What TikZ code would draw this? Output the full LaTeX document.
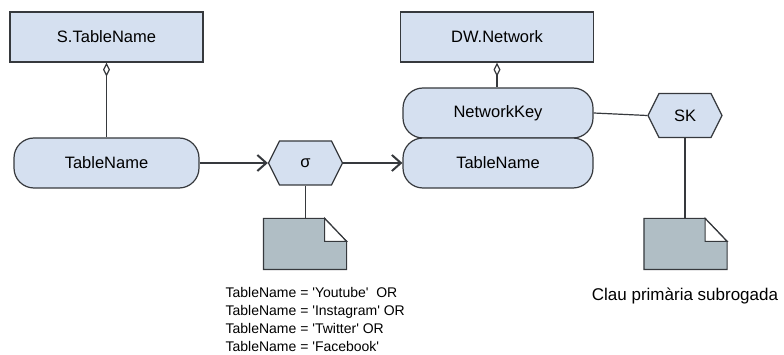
\documentclass[tikz,border=0pt]{standalone}
\usepackage{fontspec}
\setmainfont{Liberation Sans}
\usetikzlibrary{shapes.symbols,arrows.meta,calc}
\definecolor{bluefill}{HTML}{D5E0F0}
\definecolor{docfill}{HTML}{B0BEC5}
\definecolor{strokec}{HTML}{36393D}
\newcommand\sqt{\textquotesingle}
\begin{document}
\begin{tikzpicture}[x=1pt,y=-1pt,line width=1.2pt,
  box/.style={draw=strokec,fill=bluefill,minimum width=193pt,minimum height=50pt,inner sep=0pt,font=\fontsize{16.5}{19}\selectfont},
  pill/.style={box,rounded corners=20pt,minimum width=185pt},
  hex/.style={shape=signal,signal to=east and west,signal pointer angle=127,draw=strokec,fill=bluefill,minimum width=74pt,minimum height=44pt,inner sep=0pt,font=\fontsize{16.5}{19}\selectfont},
  docspace/.style={minimum width=82pt,minimum height=50pt,inner sep=0pt},
  docbody/.style={draw=strokec,fill=docfill},
  docfold/.style={draw=strokec,fill=white},
  arr/.style={draw=strokec,-{Straight Barb[length=9pt,width=16pt,line width=2pt]}},
  link/.style={draw=strokec},
  agg/.style={draw=strokec,{Diamond[open,length=14pt,width=7pt]}-}
]
\useasboundingbox (0,0) rectangle (784,355);

% left part
\node[box] (stn) at (106.5,37) {S.TableName};
\node[pill] (tn1) at (106.5,163) {TableName};
\node[hex] (sigma) at (305.5,163) {σ};
\node[docspace] (doc1) at (305,244) {};

% right part
\node[box] (dwn) at (497,37) {DW.Network};
\node[pill,minimum width=190pt] (nk) at (498,113) {NetworkKey};
\node[pill,minimum width=190pt] (tn2) at (498,163) {TableName};
\node[hex] (sk) at (685,115.5) {SK};
\node[docspace] (doc2) at (685.5,244) {};

% documents
\foreach \d in {doc1,doc2}{
  \path[docbody] (\d.south west) -- (\d.north west) -- ($(\d.north east)+(-22,0)$) -- ($(\d.north east)+(0,23)$) -- (\d.south east) -- cycle;
  \path[docfold] ($(\d.north east)+(-22,0)$) -- ($(\d.north east)+(-22,23)$) -- ($(\d.north east)+(0,23)$) -- cycle;
}

% connectors
\draw[agg] (stn.south) -- (tn1.north);
\draw[agg] (dwn.south) -- (dwn.south |- nk.north);
\draw[arr] (tn1.east) -- (sigma.west);
\draw[arr] (sigma.east) -- (tn2.west);
\draw[link] (nk.east) -- (sk.west);
\draw[link] (sigma.south) -- (sigma.south |- doc1.north);
\draw[link] (sk.south) -- (sk.south |- doc2.north);

% texts
\node[anchor=north west,align=left,inner sep=0pt,font=\fontsize{14}{17.8}\selectfont] (cond) at (225,287)
  {TableName = \sqt Youtube\sqt\ \ OR\\TableName = \sqt Instagram\sqt\ OR\\TableName = \sqt Twitter\sqt\ OR\\TableName = \sqt Facebook\sqt};
\node[inner sep=0pt,font=\fontsize{17}{20}\selectfont] (clau) at (685,296) {Clau primària subrogada};
\end{tikzpicture}
\end{document}
